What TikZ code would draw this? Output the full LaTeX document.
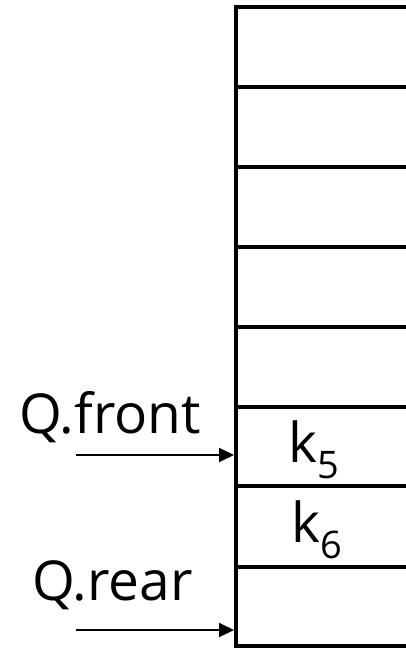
\documentclass[tikz,border=0pt]{standalone}
\usepackage{fontspec}
\setmainfont{Open Sans}
\usetikzlibrary{arrows.meta}
\tikzset{
  cellline/.style={line width=4pt, line cap=rect},
  lbl/.style={inner sep=0pt, anchor=base west, font=\fontsize{55}{62}\selectfont},
  ptr/.style={line width=2pt, -{Triangle[length=15pt,width=14pt]}, shorten >=0pt}
}
\newcommand{\kk}[1]{k\raisebox{-16pt}{\fontsize{38}{44}\selectfont #1}}
\begin{document}
\begin{tikzpicture}[x=1pt,y=-1pt]
\useasboundingbox (0,0) rectangle (406,649);
\clip (0,0) rectangle (406,649);
% queue column
\draw[cellline] (236,7) -- (236,646);
\foreach \yy in {7,87,167,247,327,407,486,567,646}
  \draw[cellline] (236,\yy) -- (420,\yy);
% arrow targets
\coordinate (fronttip) at (234,455);
\coordinate (reartip) at (234,630);
\coordinate (frontstart) at (76,455);
\coordinate (rearstart) at (76,630);
% labels
\node[lbl] (qfront) at (19,433) {Q.front};
\node[lbl] (qrear) at (32,600) {Q.rear};
\node[lbl] (k5) at (288,462) {\kk{5}};
\node[lbl] (k6) at (291,542) {\kk{6}};
% pointers
\draw[ptr] (frontstart) -- (fronttip);
\draw[ptr] (rearstart) -- (reartip);
\end{tikzpicture}
\end{document}
